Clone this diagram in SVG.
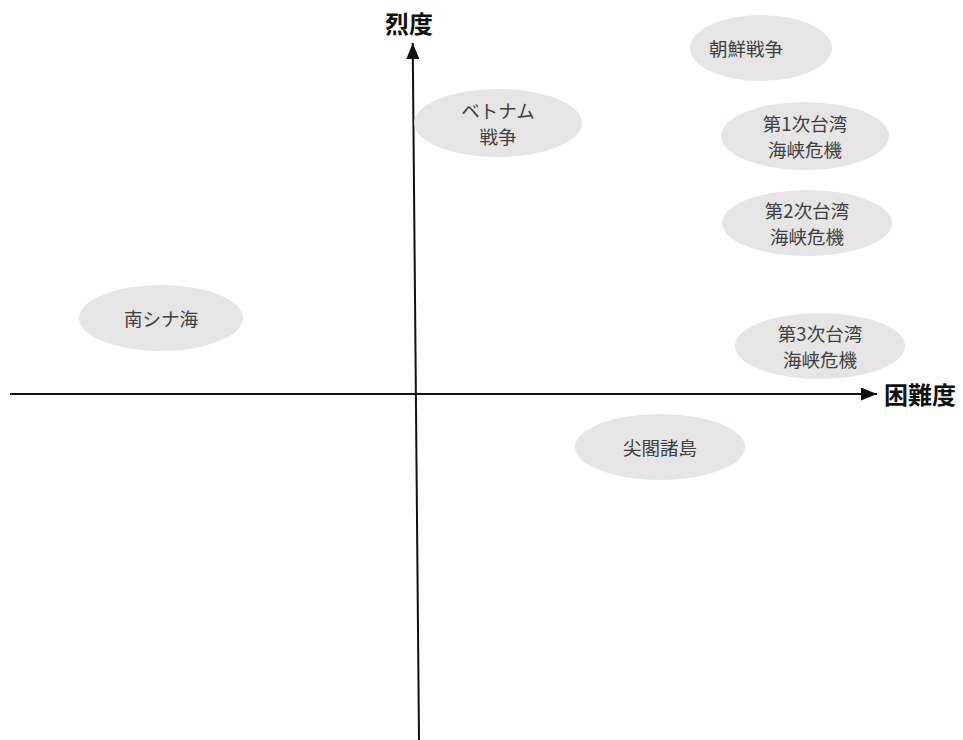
<svg xmlns="http://www.w3.org/2000/svg" width="963" height="740" viewBox="0 0 963 740">
<style>
.node ellipse{fill:#e6e4e4;stroke:none}
.node text{font-family:"Noto Sans CJK JP","Noto Sans",sans-serif;font-size:18.5px;fill:#404040;text-anchor:middle;dominant-baseline:central}
.axis{stroke:#111;stroke-width:2;fill:none}
.lbl{font-family:"Noto Sans CJK JP","Noto Sans",sans-serif;font-size:24px;font-weight:bold;fill:#111;dominant-baseline:central}
</style>
<defs>
<marker id="ah" viewBox="0 0 10 10" refX="10" refY="5" markerWidth="16" markerHeight="13" markerUnits="userSpaceOnUse" orient="auto" preserveAspectRatio="none">
<path d="M0,0 L10,5 L0,10 Z" fill="#111"/>
</marker>
</defs>
<rect width="963" height="740" fill="#fff"/>
<g id="connectors">
<line class="axis" x1="419" y1="740" x2="412.7" y2="43" marker-end="url(#ah)"/>
<line class="axis" x1="10" y1="394" x2="877" y2="394" marker-end="url(#ah)"/>
</g>
<g id="axis-y-label"><text class="lbl" x="409" y="22" text-anchor="middle">烈度</text></g>
<g id="axis-x-label"><text class="lbl" x="884" y="393">困難度</text></g>
<g id="vietnam" class="node"><ellipse cx="498" cy="123" rx="84" ry="34"/><text x="498" y="110">ベトナム</text><text x="498" y="136">戦争</text></g>
<g id="korea" class="node"><ellipse cx="761" cy="48" rx="71" ry="33"/><text x="746" y="48">朝鮮戦争</text></g>
<g id="taiwan1" class="node"><ellipse cx="805" cy="136" rx="84" ry="34"/><text x="805" y="123">第1次台湾</text><text x="805" y="149">海峡危機</text></g>
<g id="taiwan2" class="node"><ellipse cx="807" cy="223" rx="85" ry="33"/><text x="807" y="210">第2次台湾</text><text x="807" y="236">海峡危機</text></g>
<g id="taiwan3" class="node"><ellipse cx="820" cy="346" rx="85" ry="33"/><text x="820" y="333">第3次台湾</text><text x="820" y="359">海峡危機</text></g>
<g id="southchinasea" class="node"><ellipse cx="161" cy="318" rx="82" ry="33"/><text x="161" y="318">南シナ海</text></g>
<g id="senkaku" class="node"><ellipse cx="660" cy="447" rx="85" ry="33"/><text x="660" y="447">尖閣諸島</text></g>
</svg>
